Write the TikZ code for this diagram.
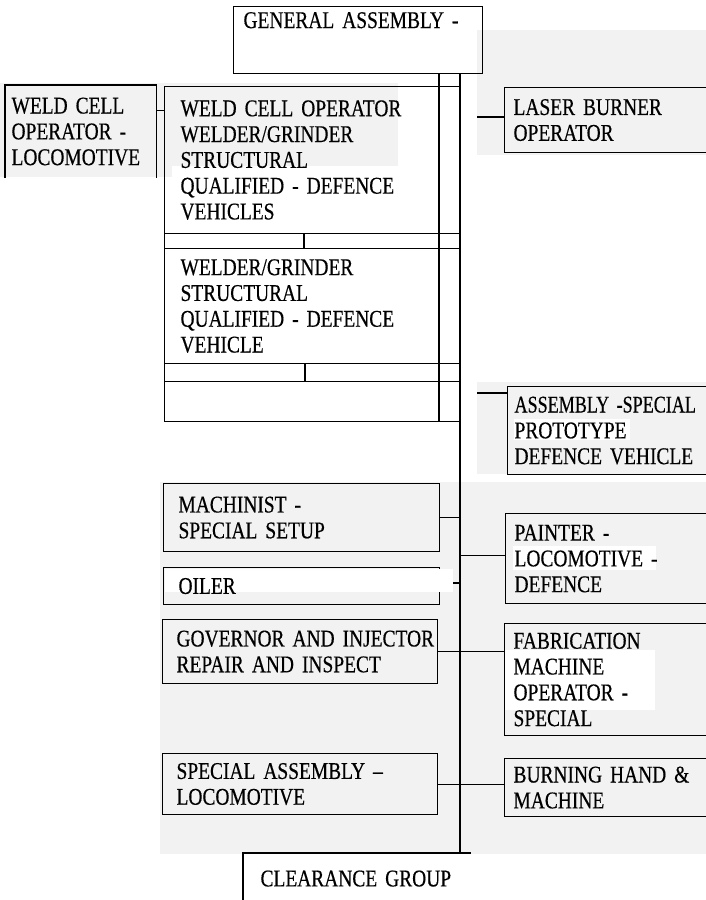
\documentclass[tikz,border=0pt]{standalone}
\usepackage{graphicx}
\usepackage{fontspec}
\setmainfont{Liberation Serif}[FakeStretch=0.81,FakeBold=0.4]

\begin{document}
\begin{tikzpicture}[x=1pt,y=-1pt,
    every node/.style={font=\fontsize{24}{25.8}\selectfont},
    box/.style={draw,line width=1.1pt,anchor=north west,align=left,inner ysep=0pt},
    slot/.style={draw,line width=1.1pt,anchor=north west,inner sep=0pt,
      minimum width=296pt,text height=0pt,text depth=0pt},
    line/.style={line width=1.1pt},
    scan/.style={fill=black!5},
    blank/.style={fill=white}]
  \clip (0,0) rectangle (706,900);
  \fill[white] (0,0) rectangle (706,900);
  % light scan shading
  \fill[scan] (0,83) rectangle (398,166);
  \fill[scan] (0,166) rectangle (172,177);
  \fill[scan] (477,30) rectangle (706,155);
  \fill[scan] (477,382) rectangle (706,474);
  \fill[scan] (160,482) rectangle (706,854);
  \fill[blank] (513,546) rectangle (656,570);
  \fill[blank] (504,650) rectangle (655,710);
  \fill[blank] (514,419) rectangle (630,440);
  \fill[blank] (165,569) rectangle (453,592);

  % top box and the spine
  \node[box,text width=229pt,inner xsep=10pt,text height=21.5pt,text depth=45.5pt] (ga) at (233,6) {GENERAL ASSEMBLY -};
  \coordinate (trunktop) at (460,73);
  \coordinate (trunkbot) at (460,853);
  \coordinate (innertop) at (439,73);

  % left column table
  \node[box,text width=138pt,inner xsep=6pt,minimum height=92pt,draw=none] (wcl) at (5,85)
    {WELD CELL\\OPERATOR -\\\mbox{LOCOMOTIVE}};
  \node[box,text width=264pt,inner xsep=16pt,minimum height=147pt] (row1) at (164,86)
    {\mbox{WELD CELL OPERATOR}\\WELDER/GRINDER\\STRUCTURAL\\\mbox{QUALIFIED - DEFENCE}\\VEHICLES};
  \node[slot,minimum height=15pt] (row2) at (164,233) {};
  \node[box,text width=264pt,inner xsep=16pt,minimum height=115pt] (row3) at (164,248)
    {WELDER/GRINDER\\STRUCTURAL\\\mbox{QUALIFIED - DEFENCE}\\VEHICLE};
  \node[slot,minimum height=18pt] (row4) at (164,363) {};
  \node[slot,minimum height=40pt] (row5) at (164,381) {};

  % right column
  \node[box,text width=202pt,inner xsep=9pt,minimum height=65pt] (laser) at (504,87)
    {LASER BURNER\\OPERATOR};
  \node[box,text width=204pt,inner xsep=7pt,minimum height=88pt] (asm) at (507,386)
    {\scalebox{0.93}[1]{ASSEMBLY -SPECIAL}\\PROTOTYPE\\\mbox{DEFENCE VEHICLE}};
  \node[box,text width=202pt,inner xsep=9pt,minimum height=90pt] (paint) at (505,513)
    {PAINTER -\\LOCOMOTIVE -\\DEFENCE};
  \node[box,text width=202pt,inner xsep=9pt,minimum height=112pt] (fab) at (504,623)
    {FABRICATION\\MACHINE\\OPERATOR -\\SPECIAL};
  \node[box,text width=202pt,inner xsep=9pt,minimum height=58pt] (burn) at (504,758)
    {\mbox{BURNING HAND \&}\\MACHINE};

  % lower left column
  \node[box,text width=246pt,inner xsep=15pt,minimum height=68pt] (mach) at (163,483)
    {MACHINIST -\\SPECIAL SETUP};
  \node[box,text width=246pt,inner xsep=15pt,minimum height=37pt] (oil) at (163,567) {OILER};
  \node[box,text width=247pt,inner xsep=14pt,minimum height=64pt] (gov) at (162,619)
    {\mbox{GOVERNOR AND INJECTOR}\\\mbox{REPAIR AND INSPECT}};
  \node[box,text width=247pt,inner xsep=14pt,minimum height=61pt] (spa) at (162,753)
    {\mbox{SPECIAL ASSEMBLY --}\\LOCOMOTIVE};
  \node[box,text width=193pt,inner xsep=17pt,minimum height=50pt,draw=none] (cl) at (243,853)
    {\mbox{CLEARANCE GROUP}};

  % lines
  \draw[line] (trunktop) -- (trunkbot);
  \draw[line] (innertop) -- (innertop |- row5.south);
  \draw[line] ([xshift=140pt]row2.north west) -- ([xshift=140pt]row2.south west);
  \draw[line] ([xshift=141pt]row4.north west) -- ([xshift=141pt]row4.south west);
  \draw[line] (wcl.south west) -- (wcl.north west) -- (wcl.north east) -- (wcl.south east);
  \draw[line] ([yshift=21pt]wcl.east) -- ([yshift=21pt]wcl.east -| row1.west);
  \coordinate (laserstub) at (477,117);
  \draw[line] (laserstub) -- (laserstub -| laser.west);
  \coordinate (asmstub) at (477,393);
  \draw[line] (asmstub) -- (asmstub -| asm.west);
  \draw[line] (mach.east) -- (mach.east -| trunktop);
  \fill[blank] (435,569) rectangle (453,592);
  \coordinate (oilstub) at (453,583);
  \draw[line] (oilstub) -- (oilstub -| trunktop);
  \draw[line] ([yshift=3pt]paint.west -| trunktop) -- ([yshift=3pt]paint.west);
  \draw[line] (gov.east) -- (gov.east -| fab.west);
  \draw[line] (spa.east) -- (spa.east -| burn.west);
  \draw[line] (cl.south west) -- (cl.north west) -- (cl.north east);
\end{tikzpicture}
\end{document}
